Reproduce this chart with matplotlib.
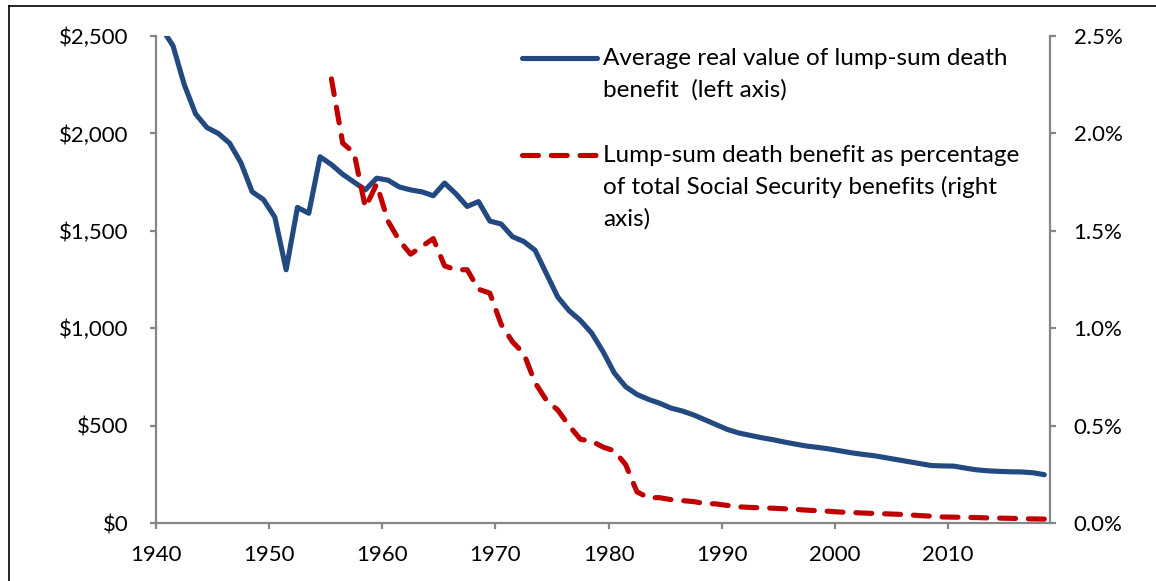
import matplotlib
matplotlib.use("Agg")
import matplotlib.pyplot as plt
from matplotlib.lines import Line2D
import numpy as np

plt.rcParams['font.family'] = ['Lato', 'DejaVu Sans']

# ---- data ----
years_blue = list(range(1940, 2019))
avg_real_value = [
    2540, 2450, 2250, 2100, 2030, 2000, 1950, 1850, 1700, 1660,   # 1940-1949
    1570, 1300, 1620, 1590, 1880, 1840, 1790, 1750, 1710, 1770,   # 1950-1959
    1760, 1725, 1710, 1700, 1680, 1745, 1690, 1625, 1650, 1550,   # 1960-1969
    1535, 1470, 1445, 1400, 1280, 1160, 1090, 1040, 975, 880,     # 1970-1979
    770, 700, 660, 635, 615, 590, 575, 555, 530, 505,             # 1980-1989
    480, 462, 450, 438, 428, 416, 405, 395, 388, 380,             # 1990-1999
    370, 360, 352, 345, 335, 325, 315, 305, 295, 293,             # 2000-2009
    292, 282, 273, 268, 265, 263, 262, 258, 248,                  # 2010-2018
]
years_red = list(range(1955, 2019))
pct_of_total = [
    2.28, 1.95, 1.90, 1.62, 1.74,                                  # 1955-1959
    1.55, 1.45, 1.38, 1.42, 1.46, 1.32, 1.30, 1.30, 1.20, 1.18,    # 1960-1969
    1.02, 0.93, 0.87, 0.72, 0.63, 0.58, 0.50, 0.43, 0.42, 0.39,    # 1970-1979
    0.37, 0.30, 0.16, 0.13, 0.13, 0.12, 0.115, 0.11, 0.10, 0.098,  # 1980-1989
    0.090, 0.083, 0.080, 0.078, 0.076, 0.073, 0.070, 0.066, 0.063, 0.060,  # 1990-1999
    0.056, 0.054, 0.051, 0.049, 0.047, 0.045, 0.042, 0.038, 0.035, 0.031,  # 2000-2009
    0.030, 0.029, 0.028, 0.026, 0.025, 0.024, 0.022, 0.021, 0.020,         # 2010-2018
]
left_ticks = [0, 500, 1000, 1500, 2000, 2500]
left_labels = ['$0', '$500', '$1,000', '$1,500', '$2,000', '$2,500']
right_ticks = [0.0, 0.5, 1.0, 1.5, 2.0, 2.5]
right_labels = ['0.0%', '0.5%', '1.0%', '1.5%', '2.0%', '2.5%']
x_ticks = [1940, 1950, 1960, 1970, 1980, 1990, 2000, 2010]
legend_blue = "Average real value of lump-sum death\nbenefit  (left axis)"
legend_red = "Lump-sum death benefit as percentage\nof total Social Security benefits (right\naxis)"

BLUE = '#234A80'
RED = '#C00000'
GREY = '#868686'
FS = 16
FS_LEG = 17.5

W, H = 1156, 581
fig = plt.figure(figsize=(W / 100, H / 100), dpi=100)
x0, x1, ytop, ybot = 156, 1050, 36, 523
ax = fig.add_axes([x0 / W, 1 - ybot / H, (x1 - x0) / W, (ybot - ytop) / H])
ax2 = ax.twinx()

xb = np.array(years_blue) + 0.5
xr = np.array(years_red) + 0.5
ax.plot(xb, avg_real_value, color=BLUE, lw=3.7, solid_joinstyle='round',
        solid_capstyle='round', zorder=3)
ax2.plot(xr, pct_of_total, color=RED, lw=3.7, linestyle=(0, (3.1, 2.5)),
         dash_capstyle='round', dash_joinstyle='round', zorder=3)

ax.set_xlim(1940, 2019)
ax.set_ylim(0, 2500)
ax2.set_ylim(0, 2.5)

ax.set_xticks(x_ticks)
ax.set_xticklabels([str(v) for v in x_ticks])
ax.set_yticks(left_ticks)
ax.set_yticklabels(left_labels)
ax2.set_yticks(right_ticks)
ax2.set_yticklabels(right_labels)

for a in (ax, ax2):
    for s in a.spines.values():
        s.set_visible(False)
    a.patch.set_visible(False)
ax.spines['left'].set_visible(True)
ax.spines['bottom'].set_visible(True)
ax2.spines['right'].set_visible(True)
for s in (ax.spines['left'], ax.spines['bottom'], ax2.spines['right']):
    s.set_color(GREY)
    s.set_linewidth(1.6)

ax.tick_params(axis='y', direction='out', length=4, width=1.6, color=GREY,
               labelsize=FS, labelcolor='#000000', pad=16)
ax.tick_params(axis='x', direction='out', length=4, width=1.6, color=GREY,
               labelsize=FS, labelcolor='#000000', pad=12)
ax2.tick_params(axis='y', direction='out', length=4, width=1.6, color=GREY,
                labelsize=FS, labelcolor='#000000', pad=13)

# manual legend (handle aligned with first text line, like Excel)
def px2ax(px, py):
    return (px - x0) / (x1 - x0), (ybot - py) / (ybot - ytop)

for label, color, ls, ypix in ((legend_blue, BLUE, '-', 58),
                               (legend_red, RED, (0, (3.1, 2.5)), 155)):
    xa, ya = px2ax(522, ypix)
    xb_, _ = px2ax(597, ypix)
    ln = Line2D([xa, xb_], [ya, ya], transform=ax.transAxes, color=color,
                lw=3.7, linestyle=ls, solid_capstyle='round',
                dash_capstyle='round', clip_on=False)
    ax.add_line(ln)
    tx, ty = px2ax(603, ypix - 10)
    ax.text(tx, ty, label, transform=ax.transAxes, fontsize=FS_LEG, va='top',
            ha='left', linespacing=1.55, color='#000000')

# outer frame (cropped: only left and top edges visible)
fig.add_artist(Line2D([9 / W, 9 / W], [0, 1 - 6 / H], transform=fig.transFigure,
                      color='black', lw=1.2))
fig.add_artist(Line2D([9 / W, 1], [1 - 6 / H, 1 - 6 / H], transform=fig.transFigure,
                      color='black', lw=1.2))

fig.savefig('out.png', dpi=100, facecolor='white')
